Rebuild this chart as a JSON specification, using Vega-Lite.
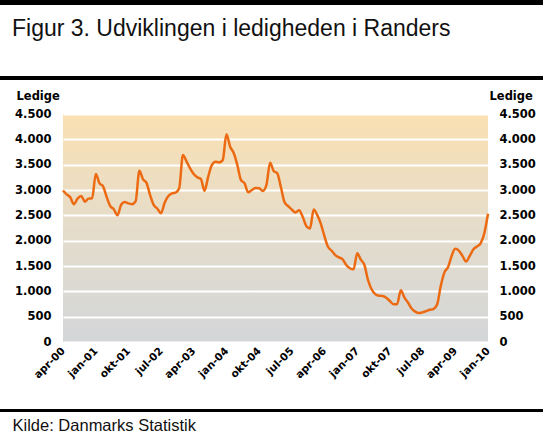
{
  "$schema": "https://vega.github.io/schema/vega-lite/v6.json",
  "width": 425,
  "height": 228,
  "autosize": {"type": "none"},
  "padding": {"left": 63, "top": 114, "right": 55, "bottom": 104},
  "background": "white",
  "view": {
    "stroke": null,
    "fill": {"gradient": "linear", "x1": 0, "y1": 0, "x2": 0, "y2": 1,
      "stops": [{"offset": 0, "color": "#fae0b2"}, {"offset": 0.55, "color": "#e3dccd"}, {"offset": 1, "color": "#d3d6d8"}]}
  },
  "title": {
    "text": "Figur 3. Udviklingen i ledigheden i Randers",
    "anchor": "start",
    "frame": "group",
    "font": "Liberation Sans",
    "fontSize": 23,
    "fontWeight": "normal",
    "color": "#111111",
    "baseline": "alphabetic",
    "dx": -51,
    "dy": 59,
    "offset": 0
  },
  "data": {"values": [
    {"month": "2000-04-01", "ledige": 2990}, {"month": "2000-05-01", "ledige": 2915}, {"month": "2000-06-01", "ledige": 2855},
    {"month": "2000-07-01", "ledige": 2720}, {"month": "2000-08-01", "ledige": 2830}, {"month": "2000-09-01", "ledige": 2880},
    {"month": "2000-10-01", "ledige": 2770}, {"month": "2000-11-01", "ledige": 2830}, {"month": "2000-12-01", "ledige": 2835},
    {"month": "2001-01-01", "ledige": 3315}, {"month": "2001-02-01", "ledige": 3130}, {"month": "2001-03-01", "ledige": 3080},
    {"month": "2001-04-01", "ledige": 2870}, {"month": "2001-05-01", "ledige": 2685}, {"month": "2001-06-01", "ledige": 2620},
    {"month": "2001-07-01", "ledige": 2500}, {"month": "2001-08-01", "ledige": 2705}, {"month": "2001-09-01", "ledige": 2765},
    {"month": "2001-10-01", "ledige": 2735}, {"month": "2001-11-01", "ledige": 2720}, {"month": "2001-12-01", "ledige": 2780},
    {"month": "2002-01-01", "ledige": 3380}, {"month": "2002-02-01", "ledige": 3210}, {"month": "2002-03-01", "ledige": 3145},
    {"month": "2002-04-01", "ledige": 2900}, {"month": "2002-05-01", "ledige": 2705}, {"month": "2002-06-01", "ledige": 2630},
    {"month": "2002-07-01", "ledige": 2540}, {"month": "2002-08-01", "ledige": 2750}, {"month": "2002-09-01", "ledige": 2880},
    {"month": "2002-10-01", "ledige": 2935}, {"month": "2002-11-01", "ledige": 2950}, {"month": "2002-12-01", "ledige": 3035},
    {"month": "2003-01-01", "ledige": 3690}, {"month": "2003-02-01", "ledige": 3560}, {"month": "2003-03-01", "ledige": 3430},
    {"month": "2003-04-01", "ledige": 3315}, {"month": "2003-05-01", "ledige": 3250}, {"month": "2003-06-01", "ledige": 3215},
    {"month": "2003-07-01", "ledige": 2985}, {"month": "2003-08-01", "ledige": 3265}, {"month": "2003-09-01", "ledige": 3495},
    {"month": "2003-10-01", "ledige": 3560}, {"month": "2003-11-01", "ledige": 3545}, {"month": "2003-12-01", "ledige": 3590},
    {"month": "2004-01-01", "ledige": 4100}, {"month": "2004-02-01", "ledige": 3855}, {"month": "2004-03-01", "ledige": 3735},
    {"month": "2004-04-01", "ledige": 3495}, {"month": "2004-05-01", "ledige": 3200}, {"month": "2004-06-01", "ledige": 3130},
    {"month": "2004-07-01", "ledige": 2955}, {"month": "2004-08-01", "ledige": 3000}, {"month": "2004-09-01", "ledige": 3040},
    {"month": "2004-10-01", "ledige": 3035}, {"month": "2004-11-01", "ledige": 2980}, {"month": "2004-12-01", "ledige": 3100},
    {"month": "2005-01-01", "ledige": 3540}, {"month": "2005-02-01", "ledige": 3370}, {"month": "2005-03-01", "ledige": 3335},
    {"month": "2005-04-01", "ledige": 3060}, {"month": "2005-05-01", "ledige": 2765}, {"month": "2005-06-01", "ledige": 2680},
    {"month": "2005-07-01", "ledige": 2615}, {"month": "2005-08-01", "ledige": 2555}, {"month": "2005-09-01", "ledige": 2600},
    {"month": "2005-10-01", "ledige": 2470}, {"month": "2005-11-01", "ledige": 2285}, {"month": "2005-12-01", "ledige": 2240},
    {"month": "2006-01-01", "ledige": 2615}, {"month": "2006-02-01", "ledige": 2500}, {"month": "2006-03-01", "ledige": 2340},
    {"month": "2006-04-01", "ledige": 2090}, {"month": "2006-05-01", "ledige": 1880}, {"month": "2006-06-01", "ledige": 1800},
    {"month": "2006-07-01", "ledige": 1715}, {"month": "2006-08-01", "ledige": 1670}, {"month": "2006-09-01", "ledige": 1630},
    {"month": "2006-10-01", "ledige": 1520}, {"month": "2006-11-01", "ledige": 1455}, {"month": "2006-12-01", "ledige": 1435},
    {"month": "2007-01-01", "ledige": 1750}, {"month": "2007-02-01", "ledige": 1620}, {"month": "2007-03-01", "ledige": 1530},
    {"month": "2007-04-01", "ledige": 1225}, {"month": "2007-05-01", "ledige": 1040}, {"month": "2007-06-01", "ledige": 945},
    {"month": "2007-07-01", "ledige": 915}, {"month": "2007-08-01", "ledige": 910}, {"month": "2007-09-01", "ledige": 875},
    {"month": "2007-10-01", "ledige": 810}, {"month": "2007-11-01", "ledige": 745}, {"month": "2007-12-01", "ledige": 745},
    {"month": "2008-01-01", "ledige": 1020}, {"month": "2008-02-01", "ledige": 875}, {"month": "2008-03-01", "ledige": 780},
    {"month": "2008-04-01", "ledige": 660}, {"month": "2008-05-01", "ledige": 600}, {"month": "2008-06-01", "ledige": 570},
    {"month": "2008-07-01", "ledige": 585}, {"month": "2008-08-01", "ledige": 610}, {"month": "2008-09-01", "ledige": 635},
    {"month": "2008-10-01", "ledige": 650}, {"month": "2008-11-01", "ledige": 745}, {"month": "2008-12-01", "ledige": 1105},
    {"month": "2009-01-01", "ledige": 1375}, {"month": "2009-02-01", "ledige": 1480}, {"month": "2009-03-01", "ledige": 1690},
    {"month": "2009-04-01", "ledige": 1840}, {"month": "2009-05-01", "ledige": 1805}, {"month": "2009-06-01", "ledige": 1700},
    {"month": "2009-07-01", "ledige": 1590}, {"month": "2009-08-01", "ledige": 1700}, {"month": "2009-09-01", "ledige": 1830},
    {"month": "2009-10-01", "ledige": 1885}, {"month": "2009-11-01", "ledige": 1950}, {"month": "2009-12-01", "ledige": 2145},
    {"month": "2010-01-01", "ledige": 2530}
  ]},
  "encoding": {
    "x": {
      "field": "month", "type": "temporal",
      "scale": {"type": "utc", "domain": [{"year": 2000, "month": 4, "date": 1, "utc": true}, {"year": 2010, "month": 1, "date": 1, "utc": true}]},
      "axis": {
        "values": [
          {"year": 2000, "month": 4, "date": 1, "utc": true}, {"year": 2001, "month": 1, "date": 1, "utc": true},
          {"year": 2001, "month": 10, "date": 1, "utc": true}, {"year": 2002, "month": 7, "date": 1, "utc": true},
          {"year": 2003, "month": 4, "date": 1, "utc": true}, {"year": 2004, "month": 1, "date": 1, "utc": true},
          {"year": 2004, "month": 10, "date": 1, "utc": true}, {"year": 2005, "month": 7, "date": 1, "utc": true},
          {"year": 2006, "month": 4, "date": 1, "utc": true}, {"year": 2007, "month": 1, "date": 1, "utc": true},
          {"year": 2007, "month": 10, "date": 1, "utc": true}, {"year": 2008, "month": 7, "date": 1, "utc": true},
          {"year": 2009, "month": 4, "date": 1, "utc": true}, {"year": 2010, "month": 1, "date": 1, "utc": true}
        ],
        "labelExpr": "['jan','feb','mar','apr','maj','jun','jul','aug','sep','okt','nov','dec'][utcmonth(datum.value)] + '-' + utcFormat(datum.value, '%y')",
        "labelAngle": -45,
        "labelAlign": "right",
        "labelBaseline": "middle",
        "labelFont": "DejaVu Sans",
        "labelFontWeight": "bold",
        "labelFontSize": 10.5,
        "labelColor": "#000000",
        "labelPadding": 7,
        "labelOverlap": false,
        "labelBound": false,
        "labelFlush": false,
        "ticks": false,
        "domain": false,
        "grid": false,
        "title": "Kilde: Danmarks Statistik",
        "titleFont": "Liberation Sans",
        "titleFontSize": 16.5,
        "titleFontWeight": "normal",
        "titleColor": "#111111",
        "titleAnchor": "start",
        "titleAlign": "left",
        "titleBaseline": "alphabetic",
        "titleX": -51,
        "titleY": 88
      }
    }
  },
  "layer": [
    {
      "mark": {"type": "rule", "color": "#000000", "strokeWidth": 5},
      "encoding": {"x": {"value": -63}, "x2": {"value": 480}, "y": {"value": -111.5}}
    },
    {
      "mark": {"type": "rule", "color": "#000000", "strokeWidth": 3},
      "encoding": {"x": {"value": -63}, "x2": {"value": 480}, "y": {"value": -36}}
    },
    {
      "mark": {"type": "rule", "color": "#000000", "strokeWidth": 3},
      "encoding": {"x": {"value": -63}, "x2": {"value": 480}, "y": {"value": 296.5}}
    },
    {
      "mark": {"type": "line", "color": "#ec6a12", "strokeWidth": 2.5, "interpolate": "monotone"},
      "encoding": {
        "y": {
          "field": "ledige", "type": "quantitative",
          "scale": {"domain": [0, 4500], "nice": false},
          "axis": {
            "orient": "left",
            "values": [0, 500, 1000, 1500, 2000, 2500, 3000, 3500, 4000, 4500],
            "labelExpr": "replace(format(datum.value, ','), ',', '.')",
            "labelFont": "DejaVu Sans",
            "labelFontWeight": "bold",
            "labelFontSize": 11.5,
            "labelColor": "#000000",
            "labelPadding": 12,
            "ticks": false,
            "domain": false,
            "grid": true,
            "gridColor": "#ffffff",
            "gridWidth": 1.8,
            "gridOpacity": 1,
            "title": "Ledige",
            "titleFont": "DejaVu Sans",
            "titleFontWeight": "bold",
            "titleFontSize": 11.5,
            "titleColor": "#000000",
            "titleAngle": 0,
            "titleAlign": "left",
            "titleBaseline": "alphabetic",
            "titleX": -47,
            "titleY": -15
          }
        }
      }
    },
    {
      "mark": {"type": "line", "opacity": 0, "interpolate": "monotone"},
      "encoding": {
        "y": {
          "field": "ledige", "type": "quantitative",
          "scale": {"domain": [0, 4500], "nice": false},
          "axis": {
            "orient": "right",
            "values": [0, 500, 1000, 1500, 2000, 2500, 3000, 3500, 4000, 4500],
            "labelExpr": "replace(format(datum.value, ','), ',', '.')",
            "labelFont": "DejaVu Sans",
            "labelFontWeight": "bold",
            "labelFontSize": 11.5,
            "labelColor": "#000000",
            "labelPadding": 11,
            "ticks": false,
            "domain": false,
            "grid": false,
            "title": "Ledige",
            "titleFont": "DejaVu Sans",
            "titleFontWeight": "bold",
            "titleFontSize": 11.5,
            "titleColor": "#000000",
            "titleAngle": 0,
            "titleAlign": "left",
            "titleBaseline": "alphabetic",
            "titleX": 1,
            "titleY": -15
          }
        }
      }
    }
  ],
  "resolve": {"scale": {"y": "independent"}, "axis": {"y": "independent"}}
}
